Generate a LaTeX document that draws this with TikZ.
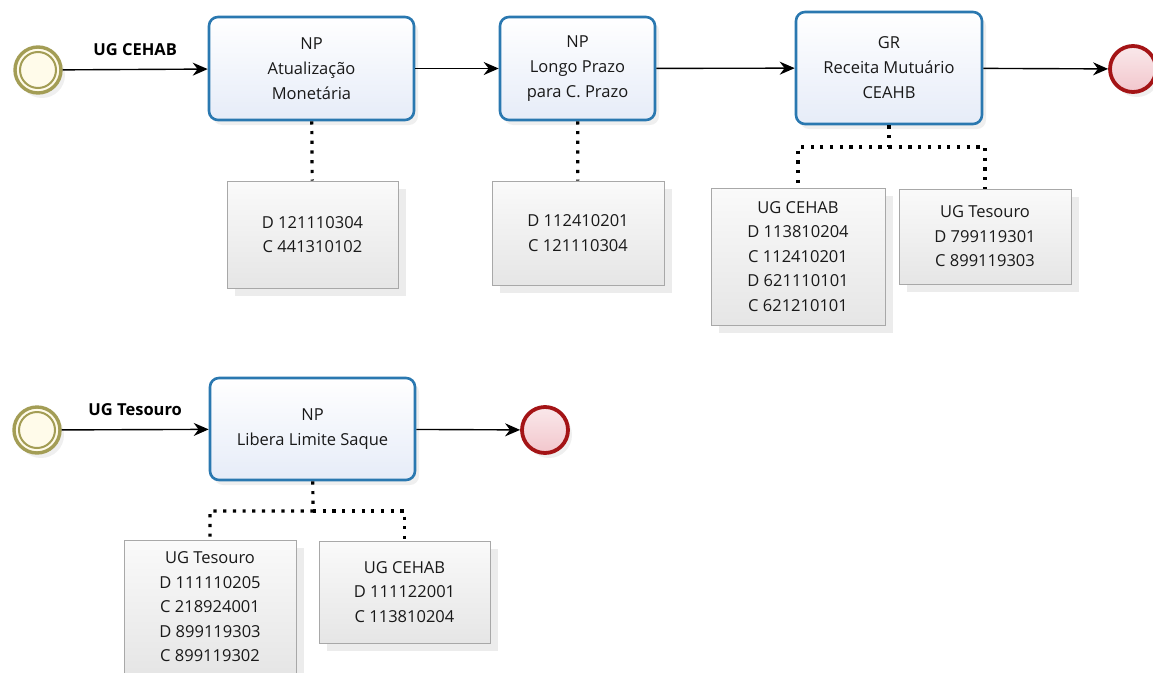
\documentclass[tikz,border=0pt]{standalone}
\usepackage{fontspec}
\setmainfont{Open Sans}
\usetikzlibrary{arrows.meta,shadows}

\definecolor{taskblue}{HTML}{2A78B0}
\definecolor{taskfill}{HTML}{E6ECF8}
\definecolor{startol}{HTML}{A39D55}
\definecolor{startfill}{HTML}{FFFBEA}
\definecolor{endred}{HTML}{A41416}
\definecolor{endfill}{HTML}{F2C6CC}
\definecolor{notebd}{HTML}{A8A8A8}

\tikzset{
  task/.style={draw=taskblue, line width=2.6pt, rounded corners=9pt,
    top color=white, bottom color=taskfill, align=center, inner sep=0pt,
    font=\fontsize{16.5}{25}\selectfont, text=black!90,
    drop shadow={opacity=0.12, shadow xshift=4pt, shadow yshift=-5pt}},
  note/.style={draw=notebd, line width=1pt, top color=gray!4, bottom color=gray!20,
    align=center, inner sep=0pt, text=black!90,
    font=\fontsize{16.5}{24.5}\selectfont,
    drop shadow={opacity=0.15, shadow xshift=8pt, shadow yshift=-8pt}},
  startev/.style={circle, draw=startol, line width=3.4pt, fill=startfill,
    minimum size=46pt, inner sep=0pt,
    drop shadow={opacity=0.12, shadow xshift=4pt, shadow yshift=-5pt}},
  endev/.style={circle, draw=endred, line width=3.8pt, top color=endfill!40, bottom color=endfill,
    minimum size=46pt, inner sep=0pt,
    drop shadow={opacity=0.12, shadow xshift=4pt, shadow yshift=-5pt}},
  flow/.style={-{Stealth[length=15pt,width=13pt]}, line width=1.4pt},
  assoc/.style={line width=3.2pt, dash pattern=on 3.2pt off 6.5pt},
  lbl/.style={font=\fontsize{16.5}{18}\selectfont\bfseries}
}

\begin{document}
\begin{tikzpicture}[x=1pt, y=-1pt]
  \useasboundingbox[fill=white] (0,0) rectangle (1153,672);

  \node[startev] (s1) at (38,70) {};
  \draw[startol, line width=2pt] (s1.center) circle (18pt);
  \node[task, minimum width=205pt, minimum height=103pt] (t1) at (311.5,68.5) {NP\\Atualização\\Monetária};
  \node[task, minimum width=155pt, minimum height=103pt] (t2) at (577.5,68.5) {NP\\Longo Prazo\\para C. Prazo};
  \node[task, minimum width=186pt, minimum height=112pt] (t3) at (889,68) {GR\\Receita Mutuário\\CEAHB};
  \node[endev] (e1) at (1133,69) {};

  \draw[flow] (s1) -- node[lbl, above=10pt] {UG CEHAB} (t1);
  \draw[flow] (t1) -- (t2);
  \draw[flow] (t2) -- (t3);
  \draw[flow] (t3) -- (e1);

  \node[note, minimum width=171pt, minimum height=107pt] (n1) at (312.5,234.5) {D 121110304\\C 441310102};
  \node[note, minimum width=172pt, minimum height=104pt] (n2) at (578,233) {D 112410201\\C 121110304};
  \node[note, minimum width=174pt, minimum height=137pt] (n3a) at (798,256.5) {UG CEHAB\\D 113810204\\C 112410201\\D 621110101\\C 621210101};
  \node[note, minimum width=172pt, minimum height=95pt] (n3b) at (985,236.5) {UG Tesouro\\D 799119301\\C 899119303};

  \draw[assoc] (t1) -- (n1);
  \draw[assoc] (t2) -- (n2);
  \coordinate (j3) at (889,147);
  \draw[assoc] (t3) -- (j3) -| (n3a);
  \draw[assoc] (j3) -| (n3b);

  \node[startev] (s2) at (37,430) {};
  \draw[startol, line width=2pt] (s2.center) circle (18pt);
  \node[task, minimum width=205pt, minimum height=102pt] (t4) at (312.5,429) {NP\\Libera Limite Saque};
  \node[endev] (e2) at (545,430) {};

  \draw[flow] (s2) -- node[lbl, above=10pt] {UG Tesouro} (t4);
  \draw[flow] (t4) -- (e2);

  \node[note, minimum width=172pt, minimum height=134pt] (n4a) at (210,607) {UG Tesouro\\D 111110205\\C 218924001\\D 899119303\\C 899119302};
  \node[note, minimum width=171pt, minimum height=102pt] (n4b) at (404.5,592) {UG CEHAB\\D 111122001\\C 113810204};

  \coordinate (j4) at (313,511);
  \draw[assoc] (t4) -- (j4) -| (n4a);
  \draw[assoc] (j4) -| (n4b);
\end{tikzpicture}
\end{document}
